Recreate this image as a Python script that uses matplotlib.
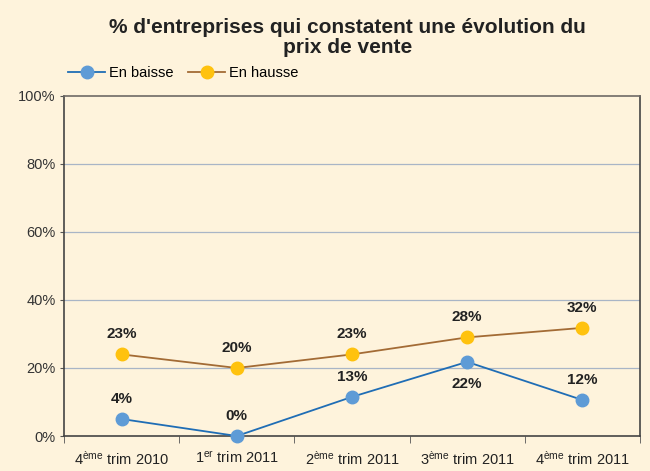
import matplotlib.pyplot as plt
from matplotlib.lines import Line2D

plt.rcParams['font.family'] = ['Liberation Sans', 'DejaVu Sans']
plt.rcParams['mathtext.fontset'] = 'custom'
plt.rcParams['mathtext.rm'] = 'Liberation Sans'
plt.rcParams['mathtext.default'] = 'rm'

# ------------------------------------------------------------
# Data
# ------------------------------------------------------------
quarters = [r"4$^{\mathrm{ème}}$ trim 2010", r"1$^{\mathrm{er}}$ trim 2011",
            r"2$^{\mathrm{ème}}$ trim 2011", r"3$^{\mathrm{ème}}$ trim 2011",
            r"4$^{\mathrm{ème}}$ trim 2011"]
baisse_vals = [5, 0, 11.5, 21.8, 10.6]
baisse_labels = ["4%", "0%", "13%", "22%", "12%"]
baisse_below = [False, False, False, True, False]
hausse_vals = [24, 20, 24, 29, 31.8]
hausse_labels = ["23%", "20%", "23%", "28%", "32%"]

BG = "#FEF3DC"
BLUE_LINE, BLUE_MK = "#1F6DB5", "#5E9BD6"
ORANGE_LINE, ORANGE_MK = "#A36B35", "#FFC20E"

fig = plt.figure(figsize=(6.5, 4.71), dpi=100, facecolor=BG)
ax = fig.add_axes([0.0985, 0.0743, 0.886, 0.722], facecolor=BG)

x = list(range(len(quarters)))
ax.plot(x, baisse_vals, color=BLUE_LINE, lw=1.3, marker="o", ms=9,
        mfc=BLUE_MK, mec=BLUE_MK, zorder=3, clip_on=False)
ax.plot(x, hausse_vals, color=ORANGE_LINE, lw=1.3, marker="o", ms=9,
        mfc=ORANGE_MK, mec=ORANGE_MK, zorder=3, clip_on=False)

for xi, v, lab, below in zip(x, baisse_vals, baisse_labels, baisse_below):
    off = -16 if below else 14.5
    ax.annotate(lab, (xi, v), xytext=(0, off), textcoords="offset points",
                ha="center", va="center", fontsize=11, fontweight="bold",
                color="#222222")
for xi, v, lab in zip(x, hausse_vals, hausse_labels):
    ax.annotate(lab, (xi, v), xytext=(0, 14.5), textcoords="offset points",
                ha="center", va="center", fontsize=11, fontweight="bold",
                color="#222222")

ax.set_xlim(-0.5, len(quarters) - 0.5)
ax.set_ylim(0, 100)
ax.set_yticks([0, 20, 40, 60, 80, 100])
ax.set_yticklabels([f"{v}%" for v in [0, 20, 40, 60, 80, 100]],
                   fontsize=10.5, color="#333333")
ax.set_xticks(x)
ax.set_xticklabels(quarters, fontsize=10.5, color="#222222")
ax.set_xticks([i + 0.5 for i in range(-1, len(quarters))], minor=True)
ax.tick_params(axis="x", which="major", length=0, pad=10)
ax.tick_params(axis="x", which="minor", length=5, direction="out",
               color="#555555")
ax.tick_params(axis="y", length=3, direction="out", color="#555555", pad=3)

for y in [20, 40, 60, 80]:
    ax.axhline(y, color="#A9B5C6", lw=0.9, zorder=1)
for side in ["left", "right", "top", "bottom"]:
    ax.spines[side].set_color("#444444")
    ax.spines[side].set_linewidth(1.2)
ax.spines["top"].set_color("#6E6A66")

fig.text(0.535, 0.921, "% d'entreprises qui constatent une évolution du\nprix de vente",
         ha="center", va="center", fontsize=15, fontweight="bold",
         color="#222222", linespacing=1.05)

handles = [
    Line2D([], [], color=BLUE_LINE, lw=1.3, marker="o", ms=9,
           mfc=BLUE_MK, mec=BLUE_MK, label="En baisse"),
    Line2D([], [], color=ORANGE_LINE, lw=1.3, marker="o", ms=9,
           mfc=ORANGE_MK, mec=ORANGE_MK, label="En hausse"),
]
fig.legend(handles=handles, loc="center left", bbox_to_anchor=(0.085, 0.845),
           ncol=2, frameon=False, fontsize=10.5, handlelength=2.5,
           handletextpad=0.3, columnspacing=1.0)

fig.savefig("out.png", dpi=100, facecolor=BG)
